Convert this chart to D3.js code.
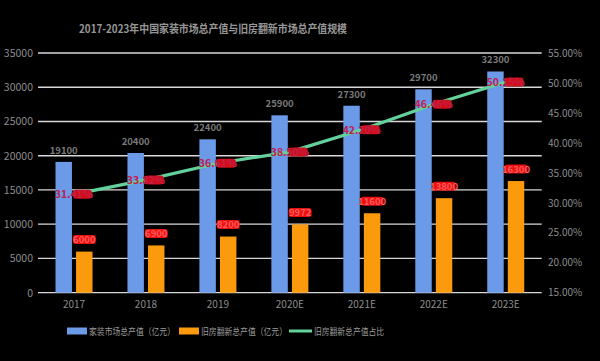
<!DOCTYPE html>
<html><head><meta charset="utf-8">
<script src="https://cdn.jsdelivr.net/npm/d3@7/dist/d3.min.js"></script>
<style>html,body{margin:0;padding:0;background:#000;}svg{display:block;}</style>
</head><body>
<script>
const years = ["2017","2018","2019","2020E","2021E","2022E","2023E"];
const homeTotal = [19100, 20400, 22400, 25900, 27300, 29700, 32300];
const renovTotal = [6000, 6900, 8200, 9972, 11600, 13800, 16300];
const renovShare = [31.41, 33.82, 36.61, 38.50, 42.20, 46.46, 50.15];
const leftTicks = [0,5000,10000,15000,20000,25000,30000,35000];
const rightTicks = [15,20,25,30,35,40,45,50,55];
const seriesNames = ["家装市场总产值（亿元）","旧房翻新总产值（亿元）","旧房翻新总产值占比"];
const title = "2017-2023年中国家装市场总产值与旧房翻新市场总产值规模";

const W=600,H=361;
const font = "'Noto Sans CJK SC','Noto Sans',sans-serif";
const svg = d3.select("body").append("svg").attr("width",W).attr("height",H)
  .style("background","#000").style("font-family",font);

const x = d3.scaleBand().domain(years).range([38,541.7]).padding(0);
const xs = d3.scaleBand().domain(["home","renov"]).range([17.5,54.5]).paddingInner(0.2);
const yL = d3.scaleLinear().domain([0,35000]).range([292.7,53]);
const yR = d3.scaleLinear().domain([15,55]).range([292.7,53]);

const blue="#6a9ae8", orange="#fb9a0c", green="#63d19c", grid="#d8d8d8", txt="#8d8d8d";

// title
svg.append("text").attr("x",79).attr("y",33).attr("fill","#969696")
  .attr("font-size",11).attr("font-weight","bold")
  .attr("textLength",268).attr("lengthAdjust","spacingAndGlyphs").text(title);

// gridlines
svg.append("g").selectAll("line").data(leftTicks).join("line")
  .attr("x1",38).attr("x2",541.7).attr("y1",d=>yL(d)).attr("y2",d=>yL(d))
  .attr("stroke",grid).attr("stroke-width",1.3);

// left axis
const gl = svg.append("g").attr("transform","translate(36,0)")
  .call(d3.axisLeft(yL).tickValues(leftTicks).tickSize(0).tickPadding(3).tickFormat(d3.format("d")));
gl.select(".domain").remove();
gl.selectAll("text").attr("fill",txt).attr("font-size",10.5).attr("font-family",font);

// right axis
const gr = svg.append("g").attr("transform","translate(546,0)")
  .call(d3.axisRight(yR).tickValues(rightTicks).tickSize(0).tickPadding(2).tickFormat(d=>d.toFixed(2)+"%"));
gr.select(".domain").remove();
gr.selectAll("text").attr("fill",txt).attr("font-size",10).attr("font-family",font);

// x axis
const gx = svg.append("g").attr("transform","translate(0,292.7)")
  .call(d3.axisBottom(x).tickSize(0).tickPadding(8));
gx.select(".domain").remove();
gx.selectAll("text").attr("fill",txt).attr("font-size",10).attr("font-family",font);

// bars
svg.append("g").selectAll("rect").data(years).join("rect")
  .attr("x",d=>x(d)+xs("home")).attr("width",xs.bandwidth())
  .attr("y",(d,i)=>yL(homeTotal[i])).attr("height",(d,i)=>yL(0)-yL(homeTotal[i]))
  .attr("fill",blue);
svg.append("g").selectAll("rect").data(years).join("rect")
  .attr("x",d=>x(d)+xs("renov")).attr("width",xs.bandwidth())
  .attr("y",(d,i)=>yL(renovTotal[i])).attr("height",(d,i)=>yL(0)-yL(renovTotal[i]))
  .attr("fill",orange);

// blue labels
svg.append("g").selectAll("text").data(years).join("text")
  .attr("x",d=>x(d)+xs("home")+xs.bandwidth()/2)
  .attr("y",(d,i)=>yL(homeTotal[i])-8)
  .attr("text-anchor","middle").attr("fill","#7a7a7a").attr("font-size",9.5).attr("font-weight","bold")
  .text((d,i)=>homeTotal[i]);

// orange labels (red boxes)
const ol = svg.append("g").selectAll("g").data(years).join("g")
  .attr("transform",(d,i)=>`translate(${x(d)+xs("renov")+xs.bandwidth()/2},${yL(renovTotal[i])-12})`);
ol.append("rect").attr("x",-11.5).attr("y",-4.5).attr("width",23).attr("height",9).attr("rx",3)
  .attr("fill","#ee0f0f");
ol.append("text").attr("text-anchor","middle").attr("y",3.5).attr("fill","#ff5a5a")
  .attr("font-size",9.5).attr("font-weight","bold").text((d,i)=>renovTotal[i]);

// line
const line = d3.line().x(d=>x(d.y)+x.bandwidth()/2).y(d=>yR(d.v));
const pts = years.map((y,i)=>({y,v:renovShare[i]}));
svg.append("path").datum(pts).attr("d",line).attr("fill","none")
  .attr("stroke",green).attr("stroke-width",3.2);

// percentage labels
const pl = svg.append("g").selectAll("g").data(pts).join("g")
  .attr("transform",d=>`translate(${x(d.y)+x.bandwidth()/2},${yR(d.v)})`);
pl.append("rect").attr("x",-1).attr("y",-4.5).attr("width",19).attr("height",9).attr("rx",3.5)
  .attr("fill","#d40d12");
pl.append("text").attr("text-anchor","middle").attr("y",3.8).attr("fill","#c0204e")
  .attr("font-size",10.5).attr("font-weight","bold").text(d=>d.v.toFixed(2)+"%");

// legend
const lg = svg.append("g");
lg.append("rect").attr("x",67).attr("y",327.5).attr("width",20).attr("height",7).attr("fill",blue);
lg.append("text").attr("x",89).attr("y",334.5).attr("fill","#9a9a9a").attr("font-size",9.5)
  .attr("textLength",86).attr("lengthAdjust","spacingAndGlyphs").text(seriesNames[0]);
lg.append("rect").attr("x",179).attr("y",327.5).attr("width",20).attr("height",7).attr("fill",orange);
lg.append("text").attr("x",201).attr("y",334.5).attr("fill","#9a9a9a").attr("font-size",9.5)
  .attr("textLength",86).attr("lengthAdjust","spacingAndGlyphs").text(seriesNames[1]);
lg.append("line").attr("x1",289).attr("x2",312).attr("y1",331).attr("y2",331)
  .attr("stroke",green).attr("stroke-width",3);
lg.append("text").attr("x",314).attr("y",334.5).attr("fill","#9a9a9a").attr("font-size",9.5)
  .attr("textLength",70).attr("lengthAdjust","spacingAndGlyphs").text(seriesNames[2]);
</script>
</body></html>
